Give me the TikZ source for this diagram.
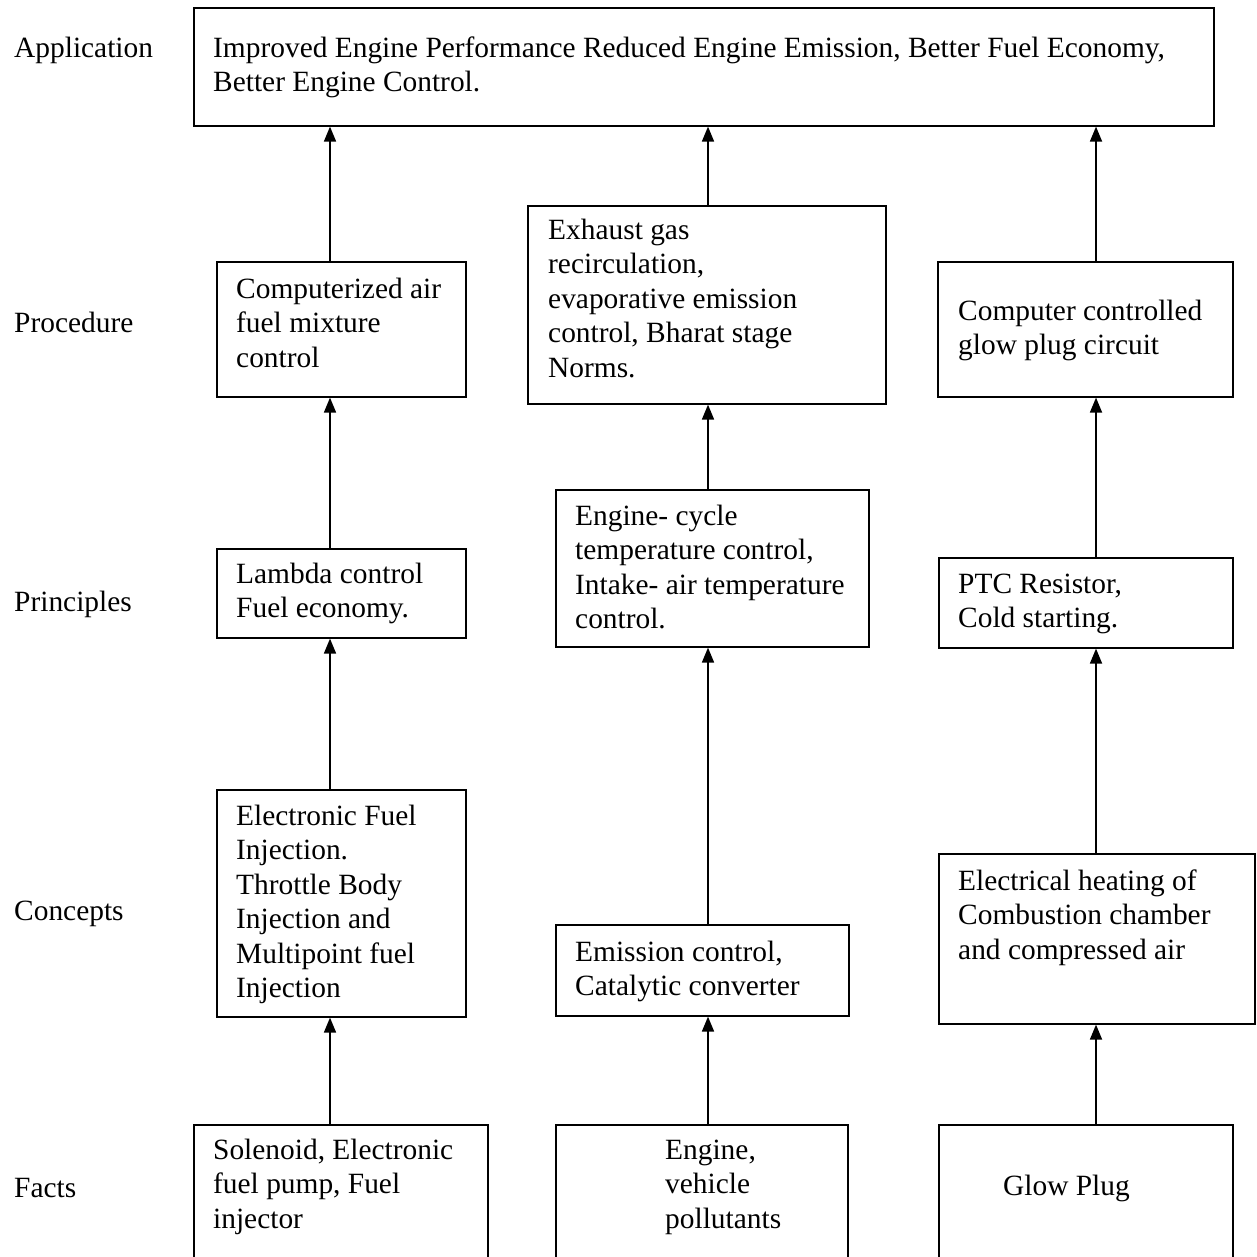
\documentclass[tikz,border=0pt]{standalone}
\usepackage{fontspec}
\setmainfont{Liberation Serif}
\usetikzlibrary{arrows.meta}
\begin{document}
\begin{tikzpicture}[x=1pt,y=-1pt,
  box/.style={draw, line width=1.6pt, rectangle, inner sep=0pt, anchor=north west},
  % multi-line texts are placed by the baseline of their last line
  txt/.style={inner sep=0pt, anchor=base west, align=left, font=\fontsize{29.4}{34.5}\selectfont},
  up/.style={line width=1.7pt, -{Triangle[length=15pt,width=12pt]}}]
\clip (0,0) rectangle (1257,1256);
\fill[white] (0,0) rectangle (1257,1256);

% level labels
\node[txt] (labApp)  at (14,57)   {Application};
\node[txt] (labProc) at (14,332)  {Procedure};
\node[txt] (labPrin) at (14,611)  {Principles};
\node[txt] (labConc) at (14,920)  {Concepts};
\node[txt] (labFact) at (14,1197) {Facts};

% boxes
\node[box, minimum width=1020pt, minimum height=118pt] (app)  at (193,7)   {};
\node[box, minimum width=249pt,  minimum height=135pt] (procL) at (216,261) {};
\node[box, minimum width=358pt,  minimum height=198pt] (procM) at (527,205) {};
\node[box, minimum width=295pt,  minimum height=135pt] (procR) at (937,261) {};
\node[box, minimum width=249pt,  minimum height=89pt]  (prinL) at (216,548) {};
\node[box, minimum width=313pt,  minimum height=157pt] (prinM) at (555,489) {};
\node[box, minimum width=294pt,  minimum height=90pt]  (prinR) at (938,557) {};
\node[box, minimum width=249pt,  minimum height=227pt] (concL) at (216,789) {};
\node[box, minimum width=293pt,  minimum height=91pt]  (concM) at (555,924) {};
\node[box, minimum width=316pt,  minimum height=170pt] (concR) at (938,853) {};
\node[box, minimum width=294pt,  minimum height=200pt] (factL) at (193,1124) {};
\node[box, minimum width=292pt,  minimum height=200pt] (factM) at (555,1124) {};
\node[box, minimum width=294pt,  minimum height=200pt] (factR) at (938,1124) {};

% box texts
\node[txt] (appT) at (213,91.5) {Improved Engine Performance Reduced Engine Emission, Better Fuel Economy,\\Better Engine Control.};
\node[txt] (procLT) at (236,367) {Computerized air\\fuel mixture\\control};
\node[txt] (procMT) at (548,377) {Exhaust gas\\recirculation,\\evaporative emission\\control, Bharat stage\\Norms.};
\node[txt] (procRT) at (958,354.5) {Computer controlled\\glow plug circuit};
\node[txt] (prinLT) at (236,617.5) {Lambda control\\Fuel economy.};
\node[txt] (prinMT) at (575,628.5) {Engine- cycle\\temperature control,\\Intake- air temperature\\control.};
\node[txt] (prinRT) at (958,627.5) {PTC Resistor,\\Cold starting.};
\node[txt] (concLT) at (236,997.5) {Electronic Fuel\\Injection.\\Throttle Body\\Injection and\\Multipoint fuel\\Injection};
\node[txt] (concMT) at (575,995.5) {Emission control,\\Catalytic converter};
\node[txt] (concRT) at (958,959) {Electrical heating of\\Combustion chamber\\and compressed air};
\node[txt] (factLT) at (213,1228) {Solenoid, Electronic\\fuel pump, Fuel\\injector};
\node[txt] (factMT) at (665,1228) {Engine,\\vehicle\\pollutants};
\node[txt] (factRT) at (1003,1195) {Glow Plug};

% column positions of the connectors
\coordinate (xL) at (330,0);
\coordinate (xM) at (708,0);
\coordinate (xR) at (1096,0);

% connectors
\draw[up] (factL.north -| xL) -- (concL.south -| xL);
\draw[up] (concL.north -| xL) -- (prinL.south -| xL);
\draw[up] (prinL.north -| xL) -- (procL.south -| xL);
\draw[up] (procL.north -| xL) -- (app.south -| xL);

\draw[up] (factM.north -| xM) -- (concM.south -| xM);
\draw[up] (concM.north -| xM) -- (prinM.south -| xM);
\draw[up] (prinM.north -| xM) -- (procM.south -| xM);
\draw[up] (procM.north -| xM) -- (app.south -| xM);

\draw[up] (factR.north -| xR) -- (concR.south -| xR);
\draw[up] (concR.north -| xR) -- (prinR.south -| xR);
\draw[up] (prinR.north -| xR) -- (procR.south -| xR);
\draw[up] (procR.north -| xR) -- (app.south -| xR);
\end{tikzpicture}
\end{document}
